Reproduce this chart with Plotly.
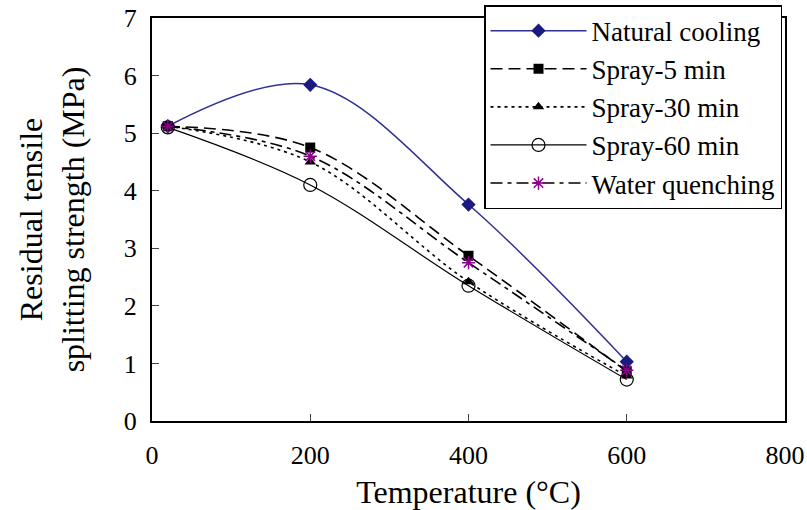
import plotly.graph_objects as go

temps = [20, 200, 400, 600]
natural = [5.12, 5.84, 3.76, 1.03]
spray5 = [5.12, 4.75, 2.87, 0.86]
spray30 = [5.12, 4.50, 2.42, 0.78]
spray60 = [5.10, 4.10, 2.35, 0.72]
water = [5.12, 4.60, 2.75, 0.88]

x_ticks = [0, 200, 400, 600, 800]
y_ticks = [0, 1, 2, 3, 4, 5, 6, 7]

FONT = "Times New Roman"

fig = go.Figure()
series = [
    ("Natural cooling", natural, dict(color="#2E3192", width=1.5, dash="solid"),
     dict(symbol="diamond", size=11, color="#1A1A80")),
    ("Spray-5 min", spray5, dict(color="black", width=1.6, dash="12px,6px"),
     dict(symbol="square", size=10, color="black")),
    ("Spray-30 min", spray30, dict(color="black", width=1.6, dash="3px,4px"),
     dict(symbol="triangle-up", size=10, color="black")),
    ("Spray-60 min", spray60, dict(color="black", width=1.2, dash="solid"),
     dict(symbol="circle-open", size=13, color="black", line=dict(width=1.2))),
    ("Water quenching", water, dict(color="black", width=1.6, dash="12px,5px,4px,5px"),
     dict(symbol="asterisk-open", size=11, color="#8B008B", line=dict(width=1.5, color="#8B008B"))),
]
for name, ys, ln, mk in series:
    fig.add_trace(go.Scatter(
        x=temps, y=ys, name=name, mode="lines+markers",
        line=dict(shape="spline", smoothing=1.0, **ln), marker=mk,
    ))

fig.update_layout(
    width=807, height=510,
    margin=dict(l=152, r=22, t=18, b=89, autoexpand=False),
    paper_bgcolor="white", plot_bgcolor="white",
    font=dict(family=FONT, size=26, color="black"),
    showlegend=True,
    legend=dict(
        x=0.5245, y=1.032, xanchor="left", yanchor="top",
        bordercolor="black", borderwidth=1.5, bgcolor="white",
        font=dict(family=FONT, size=27), tracegroupgap=0, itemwidth=96,
    ),
    xaxis=dict(
        range=[0, 800], tickvals=x_ticks, ticks="inside", ticklen=7, tickwidth=1.2,
        showline=True, linecolor="black", linewidth=2, mirror=True, showgrid=False,
        zeroline=False, tickfont=dict(family=FONT, size=26), automargin=False,
        ticklabelstandoff=10,
        title=dict(text="Temperature (°C)", font=dict(family=FONT, size=32), standoff=14),
    ),
    yaxis=dict(
        range=[0, 7], tickvals=y_ticks, ticks="inside", ticklen=7, tickwidth=1.2,
        showline=True, linecolor="black", linewidth=2, mirror=True, showgrid=False,
        zeroline=False, tickfont=dict(family=FONT, size=26), automargin=False,
        ticklabelstandoff=8,
        title=dict(text="Residual tensile<br>splitting strength (MPa)", font=dict(family=FONT, size=32), standoff=30),
    ),
)
fig.write_html("out.html")
